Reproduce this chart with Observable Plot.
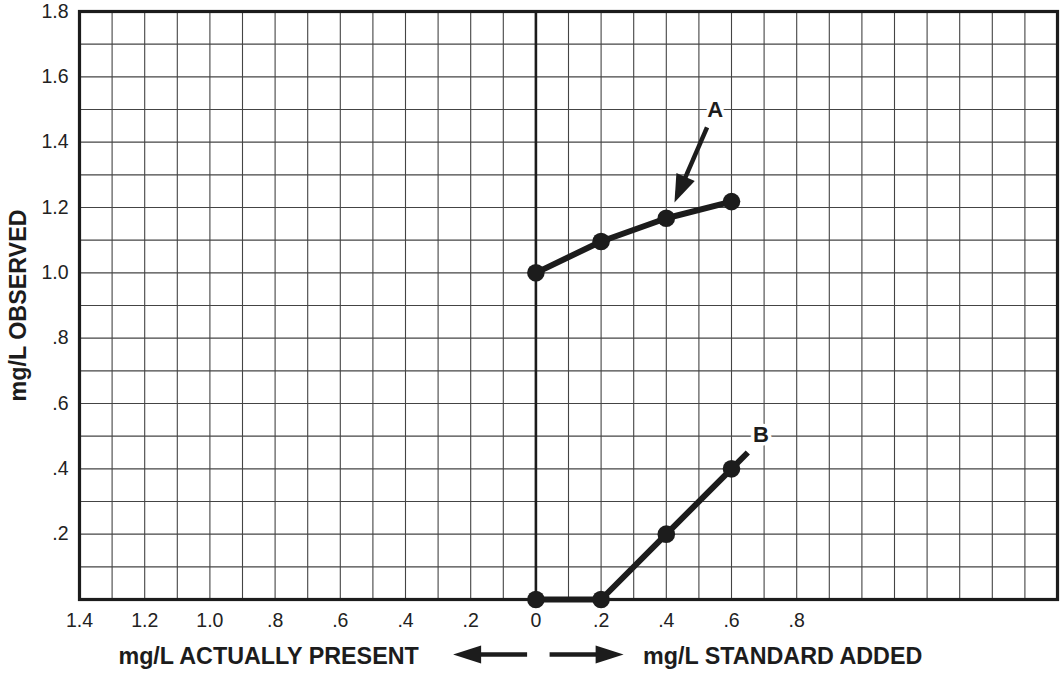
<!DOCTYPE html>
<html>
<head>
<meta charset="utf-8">
<script src="https://cdn.jsdelivr.net/npm/d3@7"></script>
<script src="https://cdn.jsdelivr.net/npm/@observablehq/plot@0.6"></script>
<style>
  html, body { margin: 0; padding: 0; background: #fff; }
  #chart { width: 1061px; height: 673px; }
</style>
</head>
<body>
<div id="chart"></div>
<script>
// ---- data ----
const seriesAx = [0, 0.2, 0.4, 0.6];
const seriesAy = [1.0, 1.096, 1.167, 1.218];
const seriesBx = [0, 0.2, 0.4, 0.6];
const seriesBy = [0, 0, 0.2, 0.4];
const seriesBtail = [0.65, 0.45];           // line B continues past last point

const xTickValues = [-1.4, -1.2, -1.0, -0.8, -0.6, -0.4, -0.2, 0, 0.2, 0.4, 0.6, 0.8];
const xTickLabels = ["1.4", "1.2", "1.0", ".8", ".6", ".4", ".2", "0", ".2", ".4", ".6", ".8"];
const yTickValues = [0.2, 0.4, 0.6, 0.8, 1.0, 1.2, 1.4, 1.6, 1.8];
const yTickLabels = [".2", ".4", ".6", ".8", "1.0", "1.2", "1.4", "1.6", "1.8"];

const labelA = {text: "A", x: 0.55, y: 1.5};
const labelB = {text: "B", x: 0.69, y: 0.505};
const arrowA = {x1: 0.525, y1: 1.445, x2: 0.425, y2: 1.215};

const yTitle = "mg/L OBSERVED";
const xTitleLeft = {text: "mg/L ACTUALLY PRESENT", x: -0.82};
const xTitleRight = {text: "mg/L STANDARD ADDED", x: 0.757};
const dirArrows = [
  {x1: -0.027, y1: -0.168, x2: -0.254, y2: -0.168},
  {x1: 0.042, y1: -0.168, x2: 0.269, y2: -0.168}
];

// ---- layout ----
const W = 1061, H = 673;
const mL = 79, mR = 4, mT = 11, mB = 74;
const xDomain = [-1.4, 1.6], yDomain = [0, 1.8];
const kx = (W - mL - mR) / (xDomain[1] - xDomain[0]);
const ky = (H - mT - mB) / (yDomain[1] - yDomain[0]);
const ink = "#1c1c1c";

const gridX = d3.range(-14, 17).map(i => i / 10);
const gridY = d3.range(0, 19).map(i => i / 10);

const A = seriesAx.map((x, i) => ({x, y: seriesAy[i]}));
const B = seriesBx.map((x, i) => ({x, y: seriesBy[i]}));
const Bline = B.concat([{x: seriesBtail[0], y: seriesBtail[1]}]);

// arrow geometry: shaft + filled triangular head (pixel sizes converted to data units)
function arrowParts(a, id, headLen, headW) {
  const dx = (a.x2 - a.x1) * kx, dy = -(a.y2 - a.y1) * ky;
  const L = Math.hypot(dx, dy), ux = dx / L, uy = dy / L;
  const nx = -uy, ny = ux;
  const toData = (px, py) => ({x: a.x2 + px / kx, y: a.y2 - py / ky, id});
  const bx = -ux * headLen, by = -uy * headLen;
  const head = [
    toData(0, 0),
    toData(bx + nx * headW / 2, by + ny * headW / 2),
    toData(bx - nx * headW / 2, by - ny * headW / 2),
    toData(0, 0)
  ];
  const shaftEnd = toData(bx * 0.7, by * 0.7);
  return {head, shaft: {x1: a.x1, y1: a.y1, x2: shaftEnd.x, y2: shaftEnd.y}};
}
const partsA = arrowParts(arrowA, "A", 28, 20);
const partsDir = dirArrows.map((a, i) => arrowParts(a, "d" + i, 28, 18));
const heads = [...partsA.head, ...partsDir.flatMap(p => p.head)];
const shafts = [partsA.shaft, ...partsDir.map(p => p.shaft)];

const font = "'Liberation Sans', Arial, Helvetica, sans-serif";
const titleSize = 23.3;

const plot = Plot.plot({
  width: W, height: H,
  marginLeft: mL, marginRight: mR, marginTop: mT, marginBottom: mB,
  x: {domain: xDomain, axis: null},
  y: {domain: yDomain, axis: null},
  style: {fontFamily: font, fontSize: "19px", color: "#222", background: "#fff", overflow: "visible"},
  marks: [
    Plot.ruleX(gridX, {stroke: "#444", strokeWidth: 1.1}),
    Plot.ruleY(gridY, {stroke: "#444", strokeWidth: 1.1}),
    Plot.ruleX([0], {stroke: ink, strokeWidth: 2.6}),
    Plot.frame({stroke: ink, strokeWidth: 3.2}),
    Plot.axisX({ticks: xTickValues, tickSize: 0, tickPadding: 14, fontSize: 19.5, fill: "#222",
      tickFormat: d => xTickLabels[xTickValues.indexOf(d)]}),
    Plot.axisY({ticks: yTickValues, tickSize: 0, tickPadding: 11, fontSize: 19.5, fill: "#222",
      tickFormat: d => yTickLabels[yTickValues.indexOf(d)]}),
    Plot.line(A, {x: "x", y: "y", stroke: ink, strokeWidth: 6}),
    Plot.line(Bline, {x: "x", y: "y", stroke: ink, strokeWidth: 6, strokeLinecap: "butt"}),
    Plot.dot(A, {x: "x", y: "y", r: 8.8, fill: ink}),
    Plot.dot(B, {x: "x", y: "y", r: 8.8, fill: ink}),
    Plot.link(shafts, {x1: "x1", y1: "y1", x2: "x2", y2: "y2", stroke: ink, strokeWidth: 4.5}),
    Plot.line(heads, {x: "x", y: "y", z: "id", fill: ink, stroke: "none"}),
    Plot.text([labelA, labelB], {x: "x", y: "y", text: "text", fontSize: 22, fontWeight: "bold",
      fill: ink, stroke: "white", strokeWidth: 7}),
    Plot.text([yTitle], {frameAnchor: "left", dx: -61, rotate: -90, textAnchor: "middle",
      lineAnchor: "middle", fontSize: titleSize, fontWeight: "bold", fill: ink}),
    Plot.text([xTitleLeft, xTitleRight], {x: "x", text: "text", frameAnchor: "bottom", dy: 64,
      textAnchor: "middle", lineAnchor: "bottom", fontSize: titleSize, fontWeight: "bold", fill: ink})
  ]
});
document.getElementById("chart").appendChild(plot);
</script>
</body>
</html>
